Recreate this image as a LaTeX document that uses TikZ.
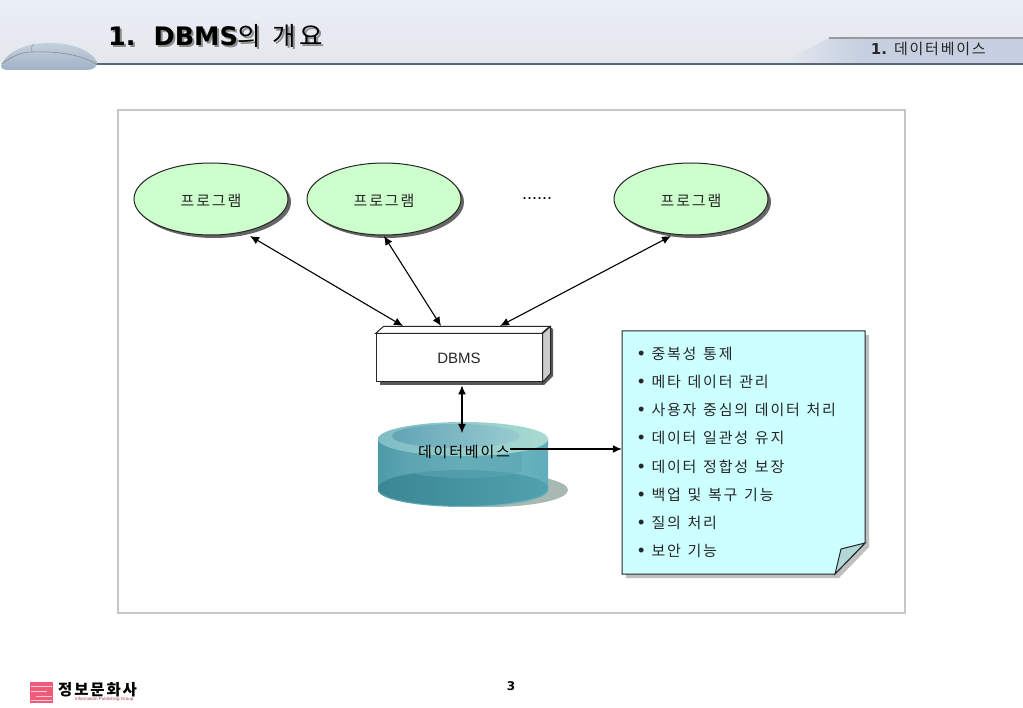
\documentclass[tikz,border=0pt]{standalone}
\usepackage{fontspec}
\setmainfont{Liberation Sans}
\newfontfamily\krfont[WordSpace=1.3,LetterSpace=12]{Noto Sans CJK KR}
\newfontfamily\titlefont{DejaVu Sans}
\usetikzlibrary{arrows.meta,shapes.geometric,shadows}
\definecolor{framegray}{HTML}{C4C8C8}
\definecolor{progfill}{HTML}{CCFFCC}
\definecolor{notefill}{HTML}{CCFFFF}
\definecolor{foldfill}{HTML}{B0D8D8}
\definecolor{headline}{HTML}{5A6878}
\definecolor{tabfill}{HTML}{C6D0E0}
\definecolor{logopink}{HTML}{EE5A78}
\tikzset{
  program/.style={ellipse, draw=black!85, fill=progfill, line width=1pt, minimum width=154pt, minimum height=72pt, inner sep=0pt, text=black!85, font=\krfont\fontsize{15}{18}\selectfont, drop shadow={shadow xshift=3pt, shadow yshift=-3pt, fill=black!60, opacity=1}},
  biarrow/.style={{Latex[length=9pt,width=8pt]}-{Latex[length=9pt,width=8pt]}, line width=1.1pt},
  onearrow/.style={-{Latex[length=9pt,width=8pt]}, line width=1.1pt},
  listitem/.style={anchor=west, inner sep=0pt, text=black!85, font=\fontsize{15}{18}\selectfont},
}
\newcommand{\bul}{{\fontsize{18}{18}\selectfont\textbullet}\hspace{7pt}\krfont}
\begin{document}
\begin{tikzpicture}[x=1pt,y=-1pt]
  \useasboundingbox (0,0) rectangle (1023,708);
  \fill[white] (0,0) rectangle (1023,708);

  % header band
  \shade[top color={rgb,255:red,234;green,238;blue,245}, middle color={rgb,255:red,245;green,246;blue,249}, bottom color={rgb,255:red,228;green,231;blue,236}] (0,0) rectangle (1023,64);
  \shade[left color=tabfill!45!white, right color=tabfill] (780,64) -- (829,38) -- (860,38) -- (860,64) -- cycle;
  \fill[tabfill] (860,38) rectangle (1023,64);
  \draw[black!40, line width=1.2pt] (829,38) -- (1023,38);
  \draw[headline, line width=1.6pt] (90,64) -- (1023,64);
  \shade[top color={rgb,255:red,196;green,208;blue,222}, bottom color={rgb,255:red,160;green,178;blue,198}] (1,66) .. controls (5,54) and (22,43) .. (50,43) .. controls (75,43) and (92,52) .. (97,62) .. controls (97,68) and (93,70) .. (85,70) -- (10,70) .. controls (4,70) and (1,69) .. (1,66) -- cycle;
  \draw[black!45, line width=0.6pt] (2,64) .. controls (12,56) and (22,52) .. (32,52) .. controls (55,51) and (80,54) .. (96,64);
  \draw[black!40, line width=0.5pt] (32,52) .. controls (31,49) and (31,46) .. (34,44);
  \node[text=black!45, anchor=base west, inner sep=0pt, font=\titlefont\bfseries\fontsize{25.5}{30}\selectfont] (titleshadow) at (110,47.5) {1.\hspace{18pt}DBMS{\krfont\mdseries 의 개요}};
  \node[anchor=base west, inner sep=0pt, font=\titlefont\bfseries\fontsize{25.5}{30}\selectfont] (title) at (108,45.5) {1.\hspace{18pt}DBMS{\krfont\mdseries 의 개요}};
  \node[anchor=base east, inner sep=0pt, text=black!85, font=\fontsize{15}{18}\selectfont] (chapter) at (986,55) {\titlefont\bfseries 1. {\krfont\mdseries 데이터베이스}};

  % frame
  \draw[framegray, line width=2pt] (118,110) rectangle (905,613);

  % programs
  \node[program] (prog1) at (211,199) {\raisebox{-1.5pt}[\height][\depth]{프로그램}};
  \node[program] (prog2) at (384,199) {\raisebox{-1.5pt}[\height][\depth]{프로그램}};
  \node[program] (prog3) at (691,199) {\raisebox{-1.5pt}[\height][\depth]{프로그램}};
  \node[inner sep=0pt, font=\fontsize{18}{20}\selectfont] (dots) at (537,199) {......};

  % dbms box
  \fill[black!65] (380,381) -- (380,385) -- (544,385) -- (553,376) -- (553,329) -- (548,326) -- (548,376) -- (542,381) -- cycle;
  \node[draw=black!85, fill=white, line width=1pt, minimum width=166pt, minimum height=48pt, inner sep=0pt, text=black!85, font=\fontsize{15}{18}\selectfont] (dbms) at (459,358) {DBMS};
  \draw[black!85, fill=white, line width=1pt] (dbms.north west) -- ++(8,-7) -- ++(166,0) -- ++(-8,7) -- cycle;
  \draw[black!85, fill=black!20, line width=1pt] (dbms.north east) -- ++(8,-7) -- ++(0,47) -- (dbms.south east) -- cycle;
  \coordinate (dbmstop) at (459,326);

  % database
  \definecolor{dbshadow}{HTML}{A8B8B2}
  \definecolor{dbsidel}{HTML}{4D9AA8}
  \definecolor{dbsider}{HTML}{5FAEBA}
  \definecolor{dbtopl}{HTML}{7FBCC4}
  \definecolor{dbtopr}{HTML}{A8DCD2}
  \definecolor{dbinl}{HTML}{62A4B6}
  \definecolor{dbinr}{HTML}{98CCD0}
  \definecolor{dbband}{HTML}{5AA5B2}
  \definecolor{dbbottoml}{HTML}{3B8693}
  \definecolor{dbbottomr}{HTML}{50A2AE}
  \fill[dbshadow] (490,490) ellipse [x radius=78pt, y radius=17pt];
  \shade[left color=dbsidel, right color=dbsider, middle color=dbsider!85!white] (378,439) -- (378,490) arc[start angle=180, end angle=360, x radius=85pt, y radius=17pt] -- (548,439) -- cycle;
  \shade[left color=dbbottoml, right color=dbbottomr] (463,488) ellipse [x radius=85pt, y radius=18pt];
  \fill[dbband, opacity=0.6] (408,447) -- (408,470) arc[start angle=180, end angle=360, x radius=57pt, y radius=8pt] -- (522,447) -- cycle;
  \shade[left color=dbtopl, right color=dbtopr] (463,439) ellipse [x radius=85pt, y radius=17pt];
  \shade[left color=dbinl, right color=dbinr] (456,436) ellipse [x radius=64pt, y radius=12pt];
  \node[inner sep=0pt, font=\krfont\fontsize{15}{18}\selectfont] (db) at (464,452) {데이터베이스};
  \coordinate (dbbox) at (462,433);

  % note
  \fill[black!25] (626,335) -- (869,335) -- (869,547) -- (839,578) -- (626,578) -- cycle;
  \draw[black!85, fill=notefill, line width=1pt] (622,331) -- (865,331) -- (865,543) -- (835,574) -- (622,574) -- cycle;
  \draw[black!85, fill=foldfill, line width=1pt] (865,543) -- (841,549) -- (835,574) -- cycle;
  \node[inner sep=0pt, minimum width=243pt, minimum height=243pt] (note) at (743.5,452.5) {};
  \node[listitem] (item1) at (638,354) {\bul 중복성 통제};
  \node[listitem] (item2) at (638,382) {\bul 메타 데이터 관리};
  \node[listitem] (item3) at (638,410) {\bul 사용자 중심의 데이터 처리};
  \node[listitem] (item4) at (638,438) {\bul 데이터 일관성 유지};
  \node[listitem] (item5) at (638,467) {\bul 데이터 정합성 보장};
  \node[listitem] (item6) at (638,495) {\bul 백업 및 복구 기능};
  \node[listitem] (item7) at (638,523) {\bul 질의 처리};
  \node[listitem] (item8) at (638,551) {\bul 보안 기능};

  % connectors
  \draw[biarrow] ([shift={(39,37)}]prog1.center) -- ([xshift=-56pt]dbmstop);
  \draw[biarrow] ([shift={(0,37)}]prog2.center) -- ([xshift=-18pt]dbmstop);
  \draw[biarrow] ([shift={(-20,37)}]prog3.center) -- ([xshift=41pt]dbmstop);
  \draw[biarrow] ([xshift=3pt,yshift=-3pt]dbms.south) -- (dbbox);
  \draw[onearrow] ([yshift=3pt]db.east) -- ([yshift=3pt]db.east -| note.west);

  % footer
  \node[inner sep=0pt, font=\titlefont\bfseries\fontsize{12}{15}\selectfont] (page) at (511,686) {3};
  \node[fill=logopink, minimum width=23pt, minimum height=21pt, inner sep=0pt] (logo) at (41.5,692.5) {};
  \draw[white!70!logopink, line width=1pt] (31,686) -- (52,686) (31,691) -- (47,691) (36,696) -- (52,696) (31,700) -- (52,700);
  \node[anchor=west, inner sep=0pt, font=\krfont\bfseries\fontsize{15.5}{20}\selectfont] (logoname) at (58,690) {정보문화사};
  \node[anchor=west, inner sep=0pt, text=logopink!70!black, font=\fontsize{4.5}{5}\selectfont] (logosub) at (75,699.5) {Information Publishing Group};
\end{tikzpicture}
\end{document}
